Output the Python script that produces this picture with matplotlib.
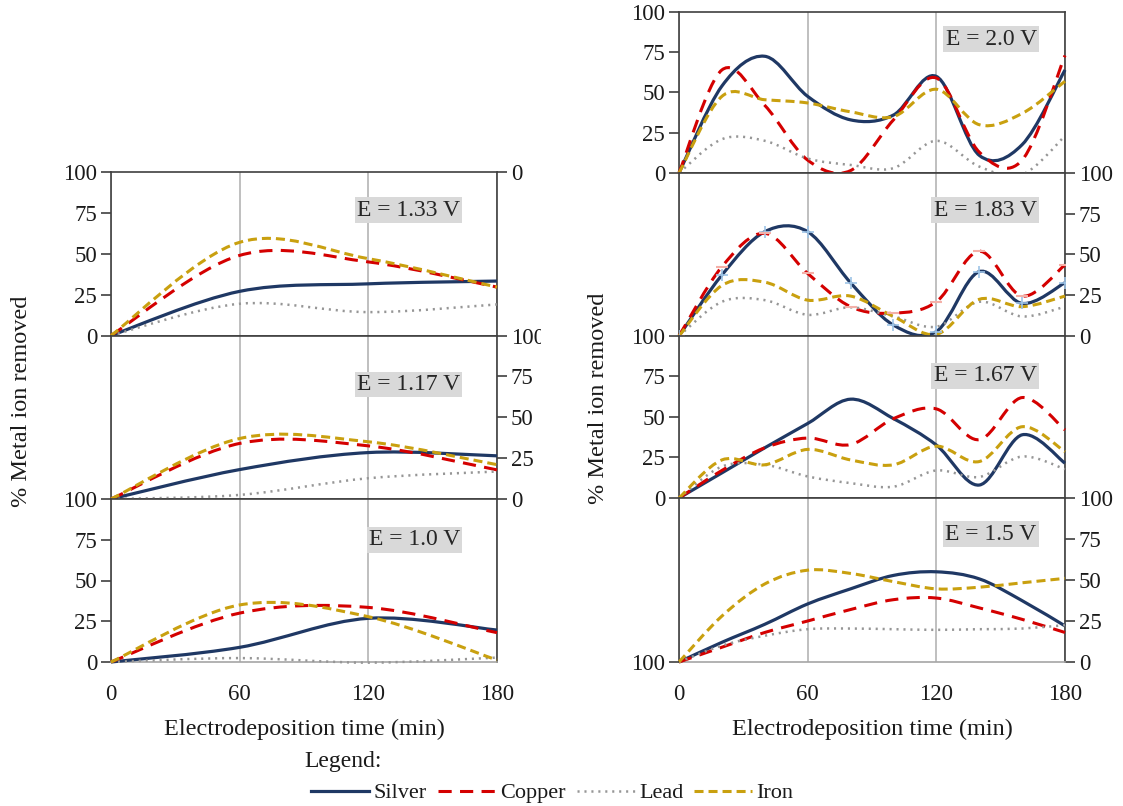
import matplotlib.pyplot as plt
from matplotlib.path import Path
from matplotlib.patches import PathPatch, Rectangle
from matplotlib.lines import Line2D

plt.rcParams['font.family'] = ['Liberation Serif', 'DejaVu Serif']
plt.rcParams['lines.scale_dashes'] = False

# time points (min)
t_left = [0, 60, 120, 180]
t_right = [0, 20, 40, 60, 80, 100, 120, 140, 160, 180]

# left column, % removed
silver_133 = [0, 27, 31.6, 33.3]
copper_133 = [0, 49, 45, 29.6]
lead_133 = [0, 19.4, 14.3, 19]
iron_133 = [0, 57, 47, 29.6]

silver_117 = [0, 18, 28.4, 26.4]
copper_117 = [0, 34, 32.5, 17.8]
lead_117 = [0, 2.5, 12.7, 16.8]
iron_117 = [0, 37, 35, 21]

silver_100 = [0, 9, 26.8, 19.6]
copper_100 = [0, 30, 33.5, 18]
lead_100 = [0, 2.4, -0.4, 2.7]
iron_100 = [0, 35, 27.8, 1.2]

# right column, % removed
silver_200 = [0, 54, 72.5, 47.6, 33, 36, 60, 11, 17.6, 64]
copper_200 = [0, 64, 42, 8, 1.5, 33, 59, 13, 8, 73]
lead_200 = [0, 21, 20, 9, 5, 3, 20, 4, -1, 23]
iron_200 = [0, 47.6, 45.5, 43.5, 38, 35, 52, 30, 37, 57]

silver_183 = [0, 37.4, 64, 64, 32.7, 6.7, 2.7, 39.5, 20, 32.7]
copper_183 = [0, 42.5, 63, 38.4, 18, 14, 21, 52, 24.5, 43.6]
lead_183 = [0, 21, 22, 13, 17.6, 12, 5.7, 21, 12, 18]
iron_183 = [0, 31, 33, 22, 24.5, 12, 1, 22.5, 18, 24.5]

silver_167 = [0, 15.5, 31, 46, 61, 49, 32.7, 8, 39, 21.5]
copper_167 = [0, 17, 31, 37, 33, 49, 55, 36, 62, 42]
lead_167 = [0, 19.4, 20.5, 13.3, 9.2, 7, 17, 13, 25.6, 17.8]
iron_167 = [0, 23.5, 20.5, 30, 23.5, 20.5, 32, 22.5, 44, 28.6]

silver_150 = [0, 12, 23, 35.4, 44.6, 52.8, 55, 50.7, 37.4, 22]
copper_150 = [0, 9, 18, 25, 32, 38, 39, 33, 26, 18]
lead_150 = [0, 10, 16, 20, 20.4, 20, 19.6, 20, 20.4, 22.5]
iron_150 = [0, 28, 47.6, 56, 54, 49, 44.6, 45.6, 48.3, 51]

names = ['Silver', 'Copper', 'Lead', 'Iron']
styles = {
    'Silver': dict(color='#1f3864', lw=2.3, ls='-'),
    'Copper': dict(color='#d40000', lw=2.2, ls=(0, (9.5, 6))),
    'Lead': dict(color='#969696', lw=1.8, ls=(0, (1.5, 3.5))),
    'Iron': dict(color='#c9a00f', lw=2.2, ls=(0, (6.5, 3.6))),
}


def smooth(ax, x, y, st):
    # excel-like smoothed line: bezier segments through the points
    n = len(x)
    verts = [(x[0], y[0])]
    codes = [Path.MOVETO]
    for i in range(n - 1):
        a = max(i - 1, 0)
        b = min(i + 2, n - 1)
        c1 = (x[i] + (x[i + 1] - x[a]) / 6, y[i] + (y[i + 1] - y[a]) / 6)
        c2 = (x[i + 1] - (x[b] - x[i]) / 6, y[i + 1] - (y[b] - y[i]) / 6)
        verts += [c1, c2, (x[i + 1], y[i + 1])]
        codes += [Path.CURVE4] * 3
    p = PathPatch(Path(verts, codes), fill=False, edgecolor=st['color'],
                  lw=st['lw'], linestyle=st['ls'], capstyle='butt', zorder=3,
                  clip_on=False)
    ax.add_patch(p)


W, H = 1123, 806
fig = plt.figure(figsize=(W / 100, H / 100), dpi=100)

# panel edges in pixels
left_edges = [172, 335.5, 499, 662]
right_edges = [12, 173, 336, 498, 662]

panels = [
    ('L', 0, t_left, [silver_133, copper_133, lead_133, iron_133], 'E = 1.33 V', 'left', 0.767),
    ('L', 1, t_left, [silver_117, copper_117, lead_117, iron_117], 'E = 1.17 V', 'right', 0.70),
    ('L', 2, t_left, [silver_100, copper_100, lead_100, iron_100], 'E = 1.0 V', 'left', 0.75),
    ('R', 0, t_right, [silver_200, copper_200, lead_200, iron_200], 'E = 2.0 V', 'left', 0.832),
    ('R', 1, t_right, [silver_183, copper_183, lead_183, iron_183], 'E = 1.83 V', 'right', 0.773),
    ('R', 2, t_right, [silver_167, copper_167, lead_167, iron_167], 'E = 1.67 V', 'left', 0.754),
    ('R', 3, t_right, [silver_150, copper_150, lead_150, iron_150], 'E = 1.5 V', 'right', 0.78),
]

tick_kw = dict(direction='out', length=7, width=1.2, color='#404040',
               labelsize=16.5, pad=3, labelcolor='#1a1a1a')

axes = {}
for col, i, t, series, lab, side, ty in panels:
    edges = left_edges if col == 'L' else right_edges
    x0 = 111 if col == 'L' else 679
    top, bot = edges[i], edges[i + 1]
    ax = fig.add_axes([x0 / W, 1 - bot / H, 386 / W, (bot - top) / H])
    axes[(col, i)] = ax
    for name, y in zip(names, series):
        smooth(ax, t, y, styles[name])
    if lab == 'E = 1.83 V':
        ax.plot(t, silver_183, ls='none', marker='+', ms=9, mew=1.2, color='#9dc3e6', zorder=4)
        ax.plot(t, copper_183, ls='none', marker='_', ms=9, mew=1.5, color='#f4b0a8', zorder=4)
    ax.set_xlim(0, 180)
    ax.set_ylim(0, 100)
    ax.set_xticks([0, 60, 120, 180])
    ax.set_yticks([0, 25, 50, 75, 100])
    ax.grid(axis='x', color='#b4b4b4', lw=1.2)
    ax.set_axisbelow(True)
    for s in ax.spines.values():
        s.set_color('#404040')
        s.set_linewidth(1.2)
    last = (col == 'L' and i == 2) or (col == 'R' and i == 3)
    if last:
        ax.tick_params(axis='x', length=0, pad=16, labelsize=16.5, labelcolor='#1a1a1a')
        ax.spines['bottom'].set_color('#a6a6a6')
        ax.set_xlabel('Electrodeposition time (min)', fontsize=17.5, labelpad=10, color='#1a1a1a')
    else:
        ax.tick_params(axis='x', length=0, labelbottom=False)
    xt = 0.9045 if col == 'L' else 0.9265
    ax.text(xt, ty, lab, transform=ax.transAxes, ha='right', va='center', fontsize=17,
            color='#262626', zorder=5,
            bbox=dict(boxstyle='square,pad=0.1', fc='#d9d9d9', ec='none'))

# stray axis labels left over in the original
tw = axes[('L', 0)].twinx()
tw.set_ylim(100, 0)
tw.set_yticks([0])
tw.tick_params(axis='y', **tick_kw)
for s in tw.spines.values():
    s.set_visible(False)

tw2 = axes[('R', 3)].twinx()
tw2.set_ylim(100, 0)
tw2.set_yticks([100])
tw2.yaxis.tick_left()
tw2.tick_params(axis='y', **tick_kw)
for s in tw2.spines.values():
    s.set_visible(False)

# y ticks on the side each panel uses (after twinx, which resets the side)
for col, i, t, series, lab, side, ty in panels:
    ax = axes[(col, i)]
    if side == 'right':
        ax.yaxis.tick_right()
    else:
        ax.yaxis.tick_left()
    ax.tick_params(axis='y', **tick_kw)

fig.text(22 / W, 1 - 401 / H, '% Metal ion removed', rotation=90, ha='center', va='center',
         fontsize=17.5, color='#1a1a1a')
fig.text(598 / W, 1 - 398 / H, '% Metal ion removed', rotation=90, ha='center', va='center',
         fontsize=17.5, color='#1a1a1a')

# the two halves were cropped images
fig.patches.append(Rectangle((541 / W, 1 - 710 / H), 40 / W, 710 / H, transform=fig.transFigure,
                             fc='white', ec='none', zorder=10))
fig.patches.append(Rectangle((1113 / W, 1 - 710 / H), 10 / W, 710 / H, transform=fig.transFigure,
                             fc='white', ec='none', zorder=10))

fig.text(304 / W, 1 - 762 / H, 'Legend:', ha='left', va='center', fontsize=17, color='#1a1a1a')
handles = [Line2D([], [], color=styles[n]['color'], lw=styles[n]['lw'], ls=styles[n]['ls'],
                  dash_capstyle='butt') for n in names]
fig.legend(handles, names, loc='center', bbox_to_anchor=(0.492, 1 - 793 / H), ncol=4,
           frameon=False, fontsize=16, handlelength=2.6, handletextpad=0.2,
           columnspacing=0.5, labelcolor='#1a1a1a')

fig.savefig('out.png', dpi=100)
